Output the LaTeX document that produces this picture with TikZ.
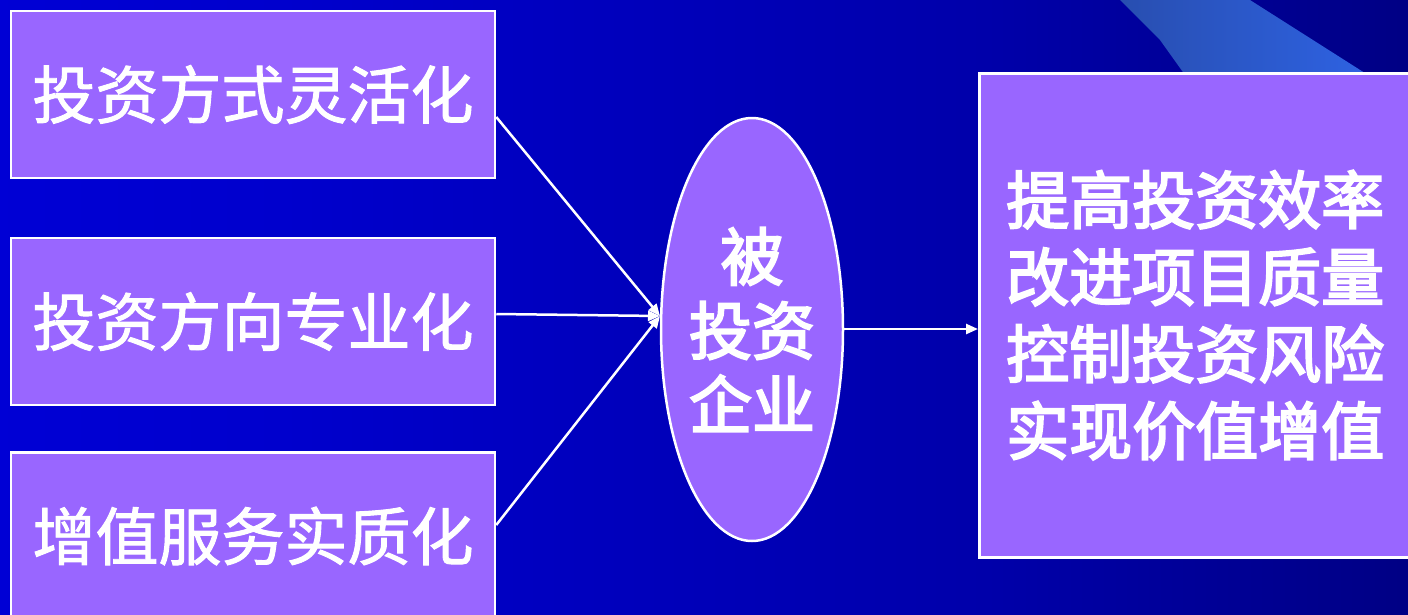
\documentclass[tikz,border=0pt]{standalone}
\usepackage{fontspec}
\setmainfont{Noto Sans CJK SC}
\newfontfamily\lightheavy{Noto Sans CJK SC}[FakeBold=1.5]
\newfontfamily\heavy{Noto Sans CJK SC}[FakeBold=3.2]
\usetikzlibrary{shapes.geometric,arrows.meta}
\definecolor{boxfill}{HTML}{9966FF}
\pgfdeclarehorizontalshading{bgshade}{100bp}{color(0bp)=(rgb,255:red,0;green,0;blue,232); color(35bp)=(rgb,255:red,0;green,0;blue,205); color(60bp)=(rgb,255:red,0;green,0;blue,170); color(80bp)=(rgb,255:red,0;green,0;blue,120); color(100bp)=(rgb,255:red,0;green,0;blue,45)}
\tikzset{
  box/.style={draw=white, line width=2.5pt, fill=boxfill, rectangle, inner sep=0pt, text=white, font=\lightheavy\fontsize{63}{77}\selectfont},
  oval/.style={draw=white, line width=2.5pt, fill=boxfill, ellipse, inner sep=0pt, text=white, align=center, font=\heavy\fontsize{63}{74}\selectfont},
  conn/.style={draw=white, line width=2.5pt, -{Triangle[width=10pt,length=12pt]}},
}
\begin{document}
\begin{tikzpicture}[x=1pt,y=-1pt]
\useasboundingbox (0,0) rectangle (1408,614);
\clip (0,0) rectangle (1408,614);
\shade[shading=bgshade] (0,0) rectangle (1408,614);
\shade[left color={rgb,255:red,40;green,78;blue,176}, right color={rgb,255:red,46;green,98;blue,226}]
  (1120,0) -- (1160,40) -- (1185,75) -- (1368,75) -- (1250,0) -- cycle;
\node[box, minimum width=484pt, minimum height=167pt] (b1) at (253,94.5) {\raisebox{-5pt}{投资方式灵活化}};
\node[box, minimum width=484pt, minimum height=167pt] (b2) at (253,321.5) {\raisebox{-4pt}{投资方向专业化}};
\node[box, minimum width=484pt, minimum height=167pt] (b3) at (253,536) {\raisebox{-4pt}{增值服务实质化}};
\node[oval, minimum width=182pt, minimum height=423pt] (e) at (752,329.5) {\raisebox{-4pt}{\parbox{126pt}{\centering\baselineskip=74pt 被\\投资\\企业}}};
\node[box, minimum width=480pt, minimum height=484pt, anchor=north west, align=left] (r) at (978,72) {\raisebox{-6pt}{\parbox{470pt}{\heavy\baselineskip=77pt\hspace*{22pt}提高投资效率\\\hspace*{22pt}改进项目质量\\\hspace*{22pt}控制投资风险\\\hspace*{22pt}实现价值增值}}};
\coordinate (in) at (660,316);
\draw[conn] (b1.east |- 0,117) -- (in);
\draw[conn] (b2.east |- 0,314) -- (in);
\draw[conn] (b3.east |- 0,525) -- (in);
\draw[conn] (e.east |- 0,329) -- (r.west |- 0,329);
\end{tikzpicture}
\end{document}
